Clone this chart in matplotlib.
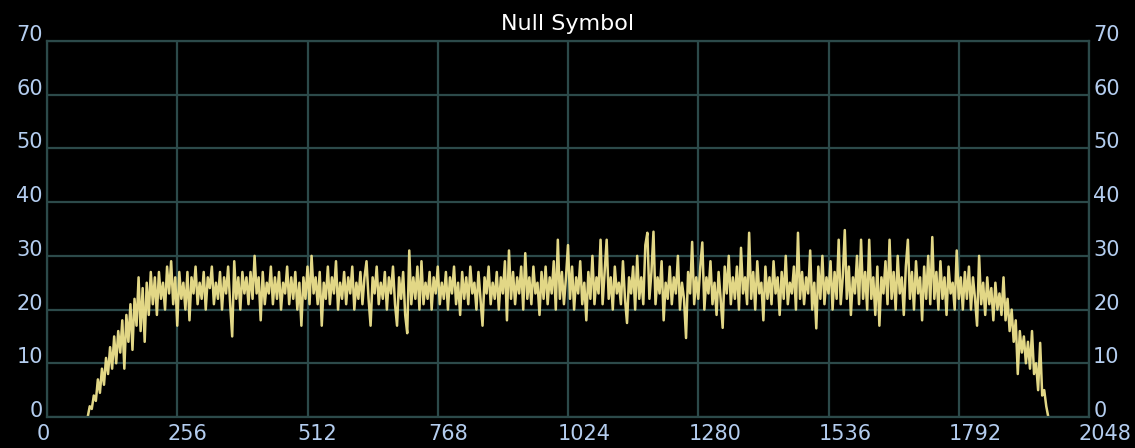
import numpy as np
import matplotlib
matplotlib.use("Agg")
import matplotlib.pyplot as plt
import matplotlib.transforms as mtransforms

# --------------------------
# Daten (Werte alle 4 Bins)
# --------------------------
START_BIN = 80
BIN_STEP = 4
values = [
    0, 2, 1.5, 4, 3, 7, 4.5, 9, 6, 11, 8, 13, 9, 15, 10, 16,
    12, 18, 9, 19, 14, 21, 12.5, 22, 17, 26, 16, 24, 14, 25, 19, 27,
    21, 26, 19, 27, 22, 25, 20, 28, 23, 29, 21, 26, 17, 27, 22, 25,
    20, 27, 18, 26, 23, 28, 21, 25, 22, 27, 20, 26, 24, 28, 21, 25,
    22, 27, 20, 26, 23, 28, 21, 15, 29, 22, 26, 20, 27, 23, 26, 21,
    27, 22, 30, 23, 26, 18, 27, 21, 25, 23, 28, 21, 26, 22, 27, 20,
    25, 23, 28, 21, 26, 22, 27, 20, 25, 17, 26, 22, 28, 21, 30, 23,
    26, 21, 27, 17, 25, 22, 28, 21, 26, 23, 29, 20, 25, 22, 27, 21,
    26, 23, 28, 20, 25, 22, 27, 21, 26, 29, 22, 17, 26, 23, 28, 21,
    25, 22, 27, 20, 26, 23, 28, 21, 17, 26, 22, 27, 19, 15.6, 31, 21,
    26, 22, 28, 20, 29, 21, 25, 22, 27, 20, 26, 23, 28, 21, 25, 22,
    27, 20, 26, 23, 28, 21, 25, 19, 27, 22, 26, 21, 28, 23, 25, 20,
    27, 22, 17, 26, 23, 28, 21, 25, 22, 27, 20, 26, 23, 29, 18, 31,
    22, 27, 21, 26, 23, 28, 20, 30.5, 22, 26, 21, 28, 23, 25, 19, 27,
    22, 28, 21, 26, 23, 29, 20, 33, 22, 27, 21, 26, 32, 22, 28, 20,
    26, 23, 29, 21, 25, 18, 27, 22, 30, 21, 26, 23, 33, 21, 27, 33,
    22, 26, 20, 28, 23, 25, 21, 29, 22, 17.5, 26, 23, 28, 20, 30, 22,
    26, 21, 32, 34.3, 22, 27, 34.5, 21, 26, 23, 29, 18, 25, 22, 28, 21,
    26, 23, 30, 20, 25, 22, 14.7, 27, 23, 32.6, 21, 26, 22, 28, 32.5, 20,
    26, 23, 29, 21, 25, 19, 27, 22, 16.6, 28, 23, 30, 21, 26, 22, 28,
    20, 31.5, 23, 26, 21, 34.3, 22, 27, 20, 29, 23, 25, 18, 28, 22, 26,
    21, 29, 23, 26, 19, 27, 22, 30, 21, 25, 23, 28, 20, 34.3, 22, 27,
    21, 26, 23, 31, 20, 25, 16.5, 28, 22, 30, 21, 26, 23, 29, 20, 27,
    22, 33, 21, 26, 34.8, 22, 28, 19, 26, 23, 30, 21, 33, 22, 27, 20,
    33, 22, 26, 19, 28, 17, 26, 23, 29, 21, 33, 22, 27, 20, 30, 23,
    26, 19, 28, 33, 22, 27, 20, 29, 23, 26, 18, 28, 22, 30, 21, 33.5,
    22, 27, 20, 29, 22, 26, 19, 28, 23, 25, 20, 31, 22, 26, 20, 27,
    22, 28, 20, 26, 22, 17, 30, 21, 25, 19, 26, 21, 24, 18, 25, 20,
    23, 19, 26, 18, 22, 16, 20, 14, 18, 8, 16, 12, 15, 10, 14, 9,
    16, 8, 10, 5, 13.8, 4, 5, 2, 0,
]
bins = START_BIN + BIN_STEP * np.arange(len(values))

x_ticks = [0, 256, 512, 768, 1024, 1280, 1536, 1792, 2048]
y_ticks = [0, 10, 20, 30, 40, 50, 60, 70]

BG = "black"
GRID = "#2c4a4a"
TXT = "#b4cdef"
LINE = "#f0e48e"

fig = plt.figure(figsize=(11.35, 4.48), dpi=100, facecolor=BG)
ax = fig.add_axes([47 / 1135, 31 / 448, 1042 / 1135, 376 / 448])
ax.set_facecolor(BG)

ax.plot(bins, values, color=LINE, linewidth=1.8, alpha=0.95)

ax.set_xlim(0, 2048)
ax.set_ylim(0, 70)
ax.set_xticks(x_ticks)
ax.set_yticks(y_ticks)
ax.grid(True, color=GRID, linewidth=1.6)
ax.set_axisbelow(True)
for s in ax.spines.values():
    s.set_color(GRID)
    s.set_linewidth(1.6)

ax.tick_params(axis="both", length=0, colors=TXT, labelsize=15)
ax.tick_params(axis="y", which="both", labelleft=True, labelright=True, pad=3)
ax.tick_params(axis="x", pad=5)

# x-Labels links ausgerichtet, etwas nach links versetzt
offset_x = mtransforms.ScaledTranslation(-10 / 100, 0, fig.dpi_scale_trans)
for lab in ax.get_xticklabels():
    lab.set_ha("left")
    lab.set_transform(lab.get_transform() + offset_x)

for t in ax.yaxis.get_major_ticks():
    t.label1.set_va("baseline")
    t.label2.set_va("baseline")

ax.set_title("Null Symbol", color="white", fontsize=16, pad=8)

fig.savefig("out.png", dpi=100, facecolor=BG)
